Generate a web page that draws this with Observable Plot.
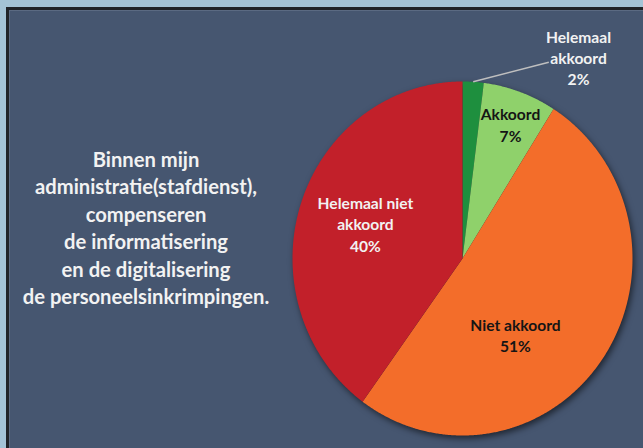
<!DOCTYPE html>
<html>
<head>
<meta charset="utf-8">
<script src="https://cdn.jsdelivr.net/npm/d3@7"></script>
<script src="https://cdn.jsdelivr.net/npm/@observablehq/plot@0.6"></script>
<style>
  html, body { margin: 0; padding: 0; }
  body { width: 643px; height: 448px; background: #A4C3D6; position: relative; overflow: hidden; font-family: Lato, "Open Sans", sans-serif; }
  #panel { position: absolute; left: 6px; top: 7px; width: 640px; height: 445px; background: #465670;
           border-left: 3px solid #202328; border-top: 3px solid #202328; box-shadow: inset 1px 1px 0 #5b6a82; }
  #question { position: absolute; left: 8px; top: 146px; width: 276px; text-align: center; color: #F2F2F2;
              font-size: 20.2px; font-weight: 700; line-height: 27.4px; white-space: pre; }
  #chart { position: absolute; left: 0; top: 0; }
  #chart svg g[aria-label="line"] { filter: drop-shadow(2px 3px 3px rgba(0,0,0,0.55)); }
</style>
</head>
<body>
<div id="panel"></div>
<div id="question"></div>
<div id="chart"></div>
<script>
// ---- data ----
const categories = ["Helemaal akkoord", "Akkoord", "Niet akkoord", "Helemaal niet akkoord"];
const shares = [2, 7, 51, 40];
const labelNames = ["Helemaal\nakkoord", "Akkoord", "Niet akkoord", "Helemaal niet\nakkoord"];
const questionLines = ["Binnen mijn", "administratie(stafdienst),", "compenseren", "de informatisering", "en de digitalisering", "de personeelsinkrimpingen."];

// ---- styles / layout ----
const colors = ["#1E8F3E", "#8FD16B", "#F36D2A", "#C2202A"];
const darkText = [false, true, true, false];
const labelShift = [27.4, 0.6, 19.8, 1];   // degrees added to slice mid-angle
const labelRadius = [1.325, 0.81, 0.53, 0.604];
const leaderEnd = {shift: 21, radius: 1.22};

document.getElementById("question").textContent = questionLines.join("\n");

const arcs = d3.pie().sort(null).value(d => d)(shares);
const rad = Math.PI / 180;

const rows = [];
arcs.forEach((a, i) => {
  const name = categories[i];
  rows.push({name, x: 0, y: 0});
  const steps = Math.max(2, Math.ceil((a.endAngle - a.startAngle) / (0.4 * rad)));
  for (let k = 0; k <= steps; k++) {
    const t = a.startAngle + (a.endAngle - a.startAngle) * k / steps;
    rows.push({name, x: Math.sin(t), y: Math.cos(t)});
  }
  rows.push({name, x: 0, y: 0});
});

const labels = arcs.map((a, i) => {
  const mid = (a.startAngle + a.endAngle) / 2 + labelShift[i] * rad;
  return {
    name: categories[i],
    text: labelNames[i] + "\n" + shares[i] + "%",
    x: labelRadius[i] * Math.sin(mid),
    y: labelRadius[i] * Math.cos(mid),
    dark: darkText[i]
  };
});

const a0 = arcs[0];
const mid0 = (a0.startAngle + a0.endAngle) / 2;
const leader = [{
  x1: Math.sin(mid0), y1: Math.cos(mid0),
  x2: leaderEnd.radius * Math.sin(mid0 + leaderEnd.shift * rad),
  y2: leaderEnd.radius * Math.cos(mid0 + leaderEnd.shift * rad)
}];

const chart = Plot.plot({
  width: 643,
  height: 448,
  marginLeft: 292,
  marginRight: 11,
  marginTop: 81,
  marginBottom: 13,
  x: {domain: [-1, 1], axis: null},
  y: {domain: [-1, 1], axis: null},
  color: {domain: categories, range: colors},
  style: {background: "transparent", fontFamily: "Lato, 'Open Sans', sans-serif", overflow: "visible"},
  marks: [
    Plot.line(rows, {x: "x", y: "y", z: "name", fill: "name", stroke: "none"}),
    Plot.link(leader, {x1: "x1", y1: "y1", x2: "x2", y2: "y2", stroke: "#BFBFBF", strokeWidth: 1.5}),
    Plot.text(labels.filter(d => d.dark), {x: "x", y: "y", text: "text", fill: "#151515", fontSize: 15.6, fontWeight: 700, lineHeight: 1.36, lineAnchor: "middle", textAnchor: "middle"}),
    Plot.text(labels.filter(d => !d.dark), {x: "x", y: "y", text: "text", fill: "#F2F2F2", fontSize: 15.6, fontWeight: 700, lineHeight: 1.36, lineAnchor: "middle", textAnchor: "middle"})
  ]
});
document.getElementById("chart").appendChild(chart);
</script>
</body>
</html>
